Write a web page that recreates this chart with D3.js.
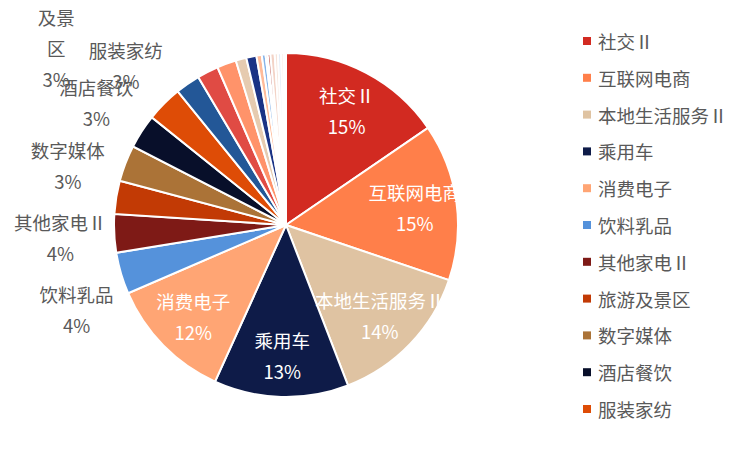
<!DOCTYPE html>
<html>
<head>
<meta charset="utf-8">
<script src="https://cdn.jsdelivr.net/npm/d3@7"></script>
<style>
  body { margin: 0; background: #fff; }
  text { font-family: "Noto Sans CJK SC", "Microsoft YaHei", sans-serif; }
</style>
</head>
<body>
<div id="chart"></div>
<script>
// industry names, clockwise from 12 o'clock
const categories = [
  "社交Ⅱ", "互联网电商", "本地生活服务Ⅱ", "乘用车", "消费电子", "饮料乳品",
  "其他家电Ⅱ", "旅游及景区", "数字媒体", "酒店餐饮", "服装家纺",
  "游戏Ⅱ", "白色家电", "化妆品", "医疗服务", "影视院线", "体育Ⅱ",
  "家居用品", "珠宝首饰", "个护用品", "航空机场", "出版", "广告营销", "一般零售", "教育"
];
// share of total (%)
const shares = [
  15.4, 14.7, 13.9, 12.6, 11.7, 3.9,
  3.6, 3.1, 3.4, 3.2, 3.4,
  2.3, 2.0, 1.8, 1.0, 0.95, 0.5,
  0.35, 0.2, 0.25, 0.4, 0.3, 0.3, 0.25, 0.2
];
const colors = [
  "#d22a21", "#ff7f4a", "#dfc3a2", "#0e1b48", "#ffa574", "#5592db",
  "#7e1a16", "#c23a05", "#ab7337", "#080f2a", "#de4c06",
  "#235797", "#e04b44", "#ff936a", "#e6cbb0", "#1b3385", "#ffbb99",
  "#86b3e8", "#f4b8a0", "#b5403a", "#f3d3c6", "#f7e3d9", "#e3ecf7", "#fbeee6", "#fdf3ee"
];

const width = 750, height = 451;
const cx = 286, cy = 225, radius = 172;
const insideCount = 5;          // biggest slices get their label inside
const labelMin = 3;             // smaller slices get no label
const movedLabel = "旅游及景区"; // no room for this one, it goes to the corner
const grey = "#595959";
const fontSize = "18.5px";

const data = categories.map((c, i) => ({ name: c, value: shares[i], color: colors[i] }));
const total = d3.sum(data, d => d.value);
const pct = d3.format(".0%");

const svg = d3.select("#chart").append("svg")
  .attr("width", width)
  .attr("height", height);

const g = svg.append("g").attr("transform", `translate(${cx},${cy})`);

const pie = d3.pie().sort(null).value(d => d.value);
const arcs = pie(data);
const arc = d3.arc().innerRadius(0).outerRadius(radius);

g.selectAll("path.slice")
  .data(arcs)
  .enter().append("path")
  .attr("class", "slice")
  .attr("d", arc)
  .attr("fill", d => d.data.color)
  .attr("stroke", "#fff")
  .attr("stroke-width", 2);

// inside labels
const inArc = d3.arc().innerRadius(130).outerRadius(130);
const inside = g.selectAll("g.inlabel")
  .data(arcs.slice(0, insideCount))
  .enter().append("g")
  .attr("class", "inlabel")
  .attr("transform", d => `translate(${inArc.centroid(d)})`);
inside.append("text")
  .attr("y", -15)
  .attr("text-anchor", "middle")
  .attr("dominant-baseline", "central")
  .attr("fill", "#fff")
  .style("font-size", fontSize)
  .text(d => d.data.name);
inside.append("text")
  .attr("y", 16)
  .attr("text-anchor", "middle")
  .attr("dominant-baseline", "central")
  .attr("fill", "#fff")
  .style("font-size", fontSize)
  .text(d => pct(d.data.value / total));

// outside labels
const outR = 226;
const mid = d => (d.startAngle + d.endAngle) / 2;
const onCircle = a => [outR * Math.sin(a), -outR * Math.cos(a)];
const outside = arcs.slice(insideCount).filter(d => d.data.value >= labelMin)
  .map(d => {
    const [x, y] = onCircle(mid(d));
    return { d: d, a: mid(d), x: x, y: y, lines: [d.data.name, pct(d.data.value / total)] };
  });

const mi = outside.findIndex(o => o.d.data.name === movedLabel);
if (mi >= 0) {
  const o = outside[mi];
  const a = 310 * Math.PI / 180;
  o.x = 300 * Math.sin(a);
  o.y = -300 * Math.cos(a);
  const name = o.d.data.name, parts = [];
  for (let k = 0; k < name.length; k += 2) parts.push(name.slice(k, k + 2));
  o.lines = parts.concat([pct(o.d.data.value / total)]);
  // the next label slides halfway into the freed place
  const n = outside[mi + 1];
  if (n) {
    n.a = (n.a + o.a) / 2;
    [n.x, n.y] = onCircle(n.a);
  }
}

// below the centre, keep labels a line pair apart, sliding them along the circle
const minGap = 72;
const rest = outside.filter((o, i) => i !== mi);
for (let i = rest.length - 2; i >= 0; i--) {
  const o = rest[i], n = rest[i + 1];
  if (o.y > 0 && o.y - n.y < minGap) {
    o.y = n.y + minGap;
    o.x = -Math.sqrt(outR * outR - o.y * o.y);
  }
}

const lineGap = 31;
const outG = g.selectAll("g.outlabel")
  .data(outside)
  .enter().append("g")
  .attr("class", "outlabel")
  .attr("transform", o => `translate(${o.x},${o.y})`);
outG.each(function(o) {
  const n = o.lines.length;
  d3.select(this).selectAll("text")
    .data(o.lines)
    .enter().append("text")
    .attr("y", (t, k) => (k - (n - 1) / 2) * lineGap)
    .attr("text-anchor", "middle")
    .attr("dominant-baseline", "central")
    .attr("fill", grey)
    .style("font-size", fontSize)
    .text(t => t);
});

// legend (only the entries that fit in the frame)
const legY = d3.scalePoint()
  .domain(categories)
  .range([41, 41 + 36.8 * (categories.length - 1)]);
const leg = svg.append("g").selectAll("g")
  .data(data.filter(d => legY(d.name) < height - 30))
  .enter().append("g")
  .attr("transform", d => `translate(583,${legY(d.name)})`);
leg.append("rect")
  .attr("x", 0).attr("y", -4)
  .attr("width", 8).attr("height", 8)
  .attr("fill", d => d.color);
leg.append("text")
  .attr("x", 15)
  .attr("dominant-baseline", "central")
  .attr("fill", grey)
  .style("font-size", fontSize)
  .text(d => d.name);
</script>
</body>
</html>
